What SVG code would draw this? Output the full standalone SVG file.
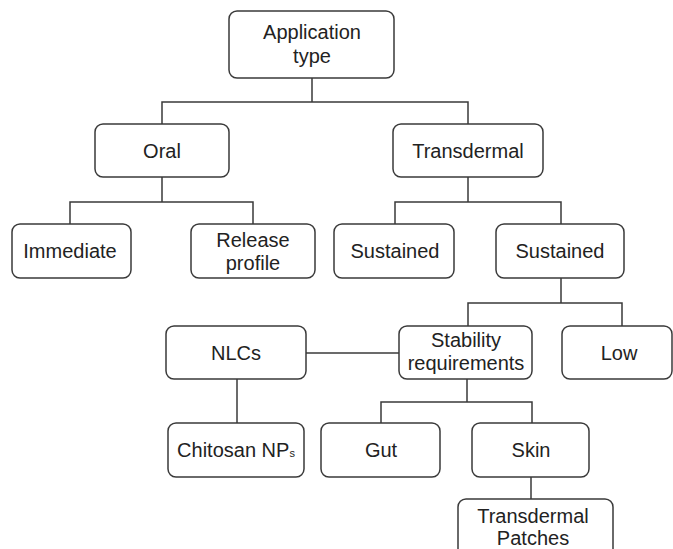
<svg xmlns="http://www.w3.org/2000/svg" width="673" height="549" viewBox="0 0 673 549">
<style>
.box{fill:#fff;stroke:#3a3a3a;stroke-width:1.5}
.t{font-family:"Liberation Sans",Arial,sans-serif;font-size:20px;fill:#222;text-anchor:middle}
.c{fill:none;stroke:#3a3a3a;stroke-width:1.5}
</style>
<rect width="673" height="549" fill="#fff"/>
<g id="connectors" class="c">
<path d="M312 78V102M162 125V102H468V124"/>
<path d="M162 177V202M70 224V202H253V224"/>
<path d="M468 177V202M395 224V202H561V224"/>
<path d="M561 278V303M468 326V303H622V326"/>
<path d="M306 353H399"/>
<path d="M237 379V423"/>
<path d="M467 379V402M381 423V402H532V423"/>
<path d="M531 477V499"/>
</g>
<g id="application"><rect class="box" x="229" y="11" width="165" height="67" rx="8"/><text class="t" x="312" y="39">Application</text><text class="t" x="312" y="63">type</text></g>
<g id="oral"><rect class="box" x="95" y="124" width="134" height="53" rx="8"/><text class="t" x="162" y="158">Oral</text></g>
<g id="transdermal"><rect class="box" x="393" y="124" width="150" height="53" rx="8"/><text class="t" x="468" y="158">Transdermal</text></g>
<g id="immediate"><rect class="box" x="12" y="224" width="119" height="54" rx="8"/><text class="t" x="70" y="258">Immediate</text></g>
<g id="release"><rect class="box" x="191" y="224" width="124" height="54" rx="8"/><text class="t" x="253" y="247">Release</text><text class="t" x="253" y="270">profile</text></g>
<g id="sustained1"><rect class="box" x="334" y="224" width="120" height="54" rx="8"/><text class="t" x="395" y="258">Sustained</text></g>
<g id="sustained2"><rect class="box" x="496" y="224" width="128" height="54" rx="8"/><text class="t" x="560" y="258">Sustained</text></g>
<g id="nlcs"><rect class="box" x="166" y="326" width="140" height="53" rx="8"/><text class="t" x="236" y="360">NLCs</text></g>
<g id="stability"><rect class="box" x="399" y="326" width="133" height="53" rx="8"/><text class="t" x="466" y="347">Stability</text><text class="t" x="466" y="370">requirements</text></g>
<g id="low"><rect class="box" x="562" y="326" width="110" height="53" rx="8"/><text class="t" x="619" y="360">Low</text></g>
<g id="chitosan"><rect class="box" x="168" y="423" width="136" height="54" rx="8"/><text class="t" x="236" y="457">Chitosan NP<tspan font-size="11">s</tspan></text></g>
<g id="gut"><rect class="box" x="321" y="423" width="119" height="54" rx="8"/><text class="t" x="381" y="457">Gut</text></g>
<g id="skin"><rect class="box" x="472" y="423" width="117" height="54" rx="8"/><text class="t" x="531" y="457">Skin</text></g>
<g id="patches"><rect class="box" x="458" y="499" width="155" height="70" rx="8"/><text class="t" x="533" y="523">Transdermal</text><text class="t" x="533" y="545">Patches</text></g>
</svg>
